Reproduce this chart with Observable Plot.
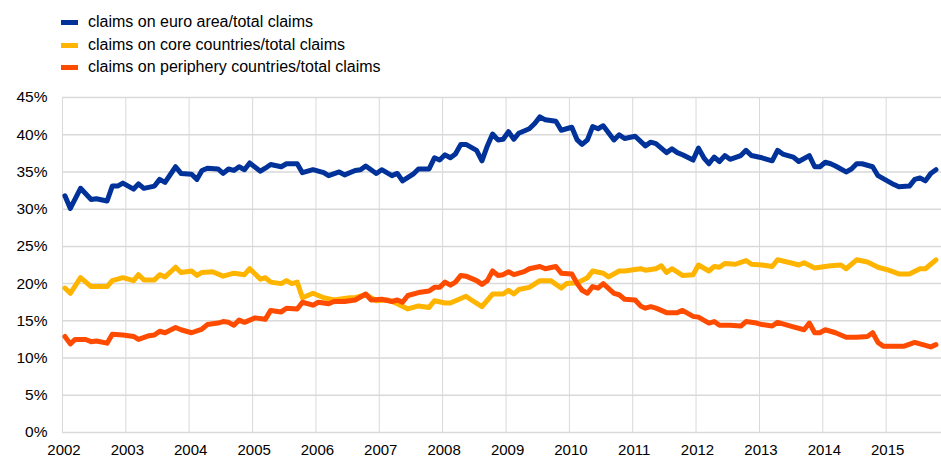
<!DOCTYPE html>
<html><head><meta charset="utf-8">
<script src="https://cdn.jsdelivr.net/npm/d3@7"></script>
<script src="https://cdn.jsdelivr.net/npm/@observablehq/plot@0.6"></script>
<style>
body{margin:0;background:#fff;font-family:"Liberation Sans",Arial,sans-serif;overflow:hidden;}
#legend{position:relative;height:80px;width:941px;}
.item{position:absolute;left:61px;height:20px;display:flex;align-items:center;font-size:16px;color:#000;white-space:nowrap;}
.sw{width:17px;height:5px;margin-right:10px;flex:none;}
</style></head><body>
<div id="legend"></div>
<div id="chart"></div>
<script>
// Series labels and colours
const seriesNames = [
  "claims on euro area/total claims",
  "claims on core countries/total claims",
  "claims on periphery countries/total claims"
];
const seriesColors = ["#003299", "#ffb400", "#ff4b00"];

// Month index counted from January 2002 (0 = Jan 2002), values in %
const euroMonths = [0,1,3,5,6,8,9,10,11,13,14,15,17,18,19,21,22,24,25,26,27,29,30,31,32,33,34,35,37,38,39,41,42,44,45,47,49,50,52,53,55,
  56,57,59,60,62,63,64,66,67,69,70,71,72,73,74,75,76,78,79,80,81,82,83,84,85,86,88,89,90,91,93,94,96,97,98,99,100,101,102,104,105,106,108,110,111,112,
  114,115,116,117,119,120,121,122,123,124,125,126,128,129,130,132,134,135,136,138,139,141,142,143,144,145,146,148,149,150,151,153,154,156,157,158,160,161,162,163,164,165];
const euroValues = [31.8,30.1,32.8,31.3,31.4,31.1,33.1,33.1,33.5,32.7,33.4,32.8,33.1,34.0,33.6,35.7,34.8,34.7,34.0,35.2,35.5,35.4,34.8,35.4,35.2,35.7,35.3,36.2,35.1,35.5,36.0,35.7,36.1,36.1,34.9,35.3,34.9,34.5,35.0,34.6,35.2,
  35.3,35.8,34.8,35.3,34.5,34.8,33.8,34.7,35.4,35.4,36.9,36.6,37.3,36.9,37.4,38.7,38.7,37.9,36.5,38.5,40.1,39.3,39.4,40.4,39.4,40.2,40.8,41.5,42.4,42.0,41.8,40.6,41.0,39.3,38.7,39.3,41.1,40.8,41.2,39.3,40.0,39.5,39.8,38.5,39.0,38.8,
  37.6,38.1,37.6,37.3,36.6,38.2,36.9,36.1,37.0,36.4,37.2,36.7,37.2,37.9,37.2,36.9,36.5,37.9,37.4,37.0,36.4,37.2,35.7,35.7,36.3,36.1,35.8,35.0,35.4,36.1,36.1,35.7,34.5,33.7,33.3,33.0,33.1,34.0,34.2,33.8,34.8,35.3];

const coreMonths = [0,1,3,5,8,9,11,13,14,15,17,18,19,21,22,24,25,26,28,30,32,34,35,37,38,39,41,42,43,44,45,47,49,51,52,54,55,
  57,59,61,62,63,65,67,69,70,72,73,76,77,79,81,83,84,85,86,88,90,92,94,95,97,99,100,102,103,105,106,109,110,112,
  113,114,115,117,119,120,122,123,124,125,127,129,130,132,134,135,138,139,140,142,145,147,148,150,152,154,156,158,160,162,163,164,165];
const coreValues = [19.4,18.7,20.8,19.6,19.6,20.4,20.8,20.4,21.2,20.5,20.5,21.2,20.9,22.2,21.5,21.7,21.1,21.5,21.6,21.0,21.4,21.2,22.0,20.6,20.8,20.2,20.0,20.4,20.0,20.2,18.1,18.7,18.1,17.8,17.9,18.1,18.1,
  18.5,17.7,17.8,17.6,17.3,16.6,17.0,16.8,17.7,17.4,17.4,18.3,17.8,16.9,18.6,18.6,19.1,18.6,19.2,19.5,20.4,20.4,19.4,20.0,20.1,20.8,21.7,21.4,20.9,21.7,21.7,22.0,21.8,22.0,
  22.4,21.5,22.0,21.1,21.2,22.5,21.7,22.3,22.2,22.7,22.6,23.1,22.6,22.5,22.3,23.2,22.7,22.5,22.8,22.1,22.4,22.5,22.0,23.2,22.9,22.2,21.8,21.3,21.3,22.0,22.0,22.6,23.2];

const peripheryMonths = [0,1,2,4,5,6,8,9,11,13,14,16,17,18,19,21,22,24,26,27,29,30,31,32,33,34,36,38,39,41,42,44,45,47,48,50,51,53,55,
  57,58,60,62,63,64,65,67,69,70,71,72,73,74,75,76,78,79,80,81,82,83,84,85,87,88,90,91,93,94,96,97,98,99,100,101,102,104,105,106,108,109,110,111,112,
  114,116,117,119,120,122,123,124,126,128,129,131,132,134,135,138,140,141,142,143,144,146,148,150,152,153,154,155,159,161,162,164,165];
const peripheryValues = [12.9,11.9,12.5,12.5,12.2,12.3,12.0,13.2,13.1,12.9,12.5,13.0,13.1,13.6,13.4,14.1,13.8,13.4,13.9,14.5,14.7,14.9,14.8,14.4,15.1,14.8,15.4,15.2,16.4,16.2,16.7,16.6,17.5,17.1,17.5,17.3,17.6,17.6,17.8,
  18.6,17.8,17.9,17.6,17.8,17.5,18.4,18.8,19.0,19.5,19.5,20.2,19.8,20.2,21.1,21.0,20.4,19.9,20.4,21.7,21.1,21.2,21.6,21.2,21.6,22.0,22.3,22.0,22.3,21.4,21.3,20.0,19.1,18.7,19.6,19.4,20.0,18.7,18.5,17.9,17.8,17.0,16.7,16.9,16.7,
  16.1,16.1,16.4,15.6,15.5,14.7,14.9,14.4,14.4,14.3,14.9,14.7,14.5,14.3,14.8,14.2,13.8,14.7,13.4,13.4,13.8,13.4,12.8,12.8,12.9,13.4,12.1,11.6,11.6,12.1,11.9,11.5,11.8];

// Axis ticks
const yearTicks = [2002,2003,2004,2005,2006,2007,2008,2009,2010,2011,2012,2013,2014,2015];
const yTicks = [0,5,10,15,20,25,30,35,40,45];

const toDate = m => new Date(Date.UTC(2002, m, 15));
const build = (months, values) => months.map((m, i) => ({date: toDate(m), value: values[i]}));
const series = [
  build(euroMonths, euroValues),
  build(coreMonths, coreValues),
  build(peripheryMonths, peripheryValues)
];

// Legend
const legend = document.getElementById("legend");
seriesNames.forEach((name, i) => {
  const it = document.createElement("div");
  it.className = "item";
  it.style.top = [12, 35, 57][i] + "px";
  it.innerHTML = `<span class="sw" style="background:${seriesColors[i]}"></span><span>${name}</span>`;
  legend.appendChild(it);
});

const xDates = yearTicks.map(y => new Date(Date.UTC(y, 0, 1)));

const chart = Plot.plot({
  width: 941,
  height: 377,
  marginLeft: 62,
  marginRight: 0,
  marginTop: 17,
  marginBottom: 25,
  style: {fontFamily: "'Liberation Sans', Arial, sans-serif", fontSize: "15px", color: "#000", background: "#fff"},
  x: {type: "utc", domain: [new Date(Date.UTC(2002, 0, 1)), new Date(Date.UTC(2015, 10, 16))]},
  y: {domain: [0, 45]},
  marks: [
    Plot.gridY(yTicks, {stroke: "#d9d9d9", strokeOpacity: 1, strokeWidth: 1.5}),
    Plot.gridX(xDates, {stroke: "#d9d9d9", strokeOpacity: 1, strokeWidth: 1}),
    Plot.axisY(yTicks, {tickSize: 0, tickPadding: 15, tickFormat: d => d + "%", fontSize: 15.5, label: null}),
    Plot.axisX(xDates, {tickSize: 0, tickPadding: 11.5, tickFormat: d3.utcFormat("%Y"), fontSize: 15, dx: 1.5, label: null}),
    ...series.map((data, i) => Plot.line(data, {
      x: "date", y: "value", stroke: seriesColors[i], strokeWidth: 5,
      strokeLinejoin: "round", strokeLinecap: "round"
    }))
  ]
});
document.getElementById("chart").appendChild(chart);
</script></body></html>
